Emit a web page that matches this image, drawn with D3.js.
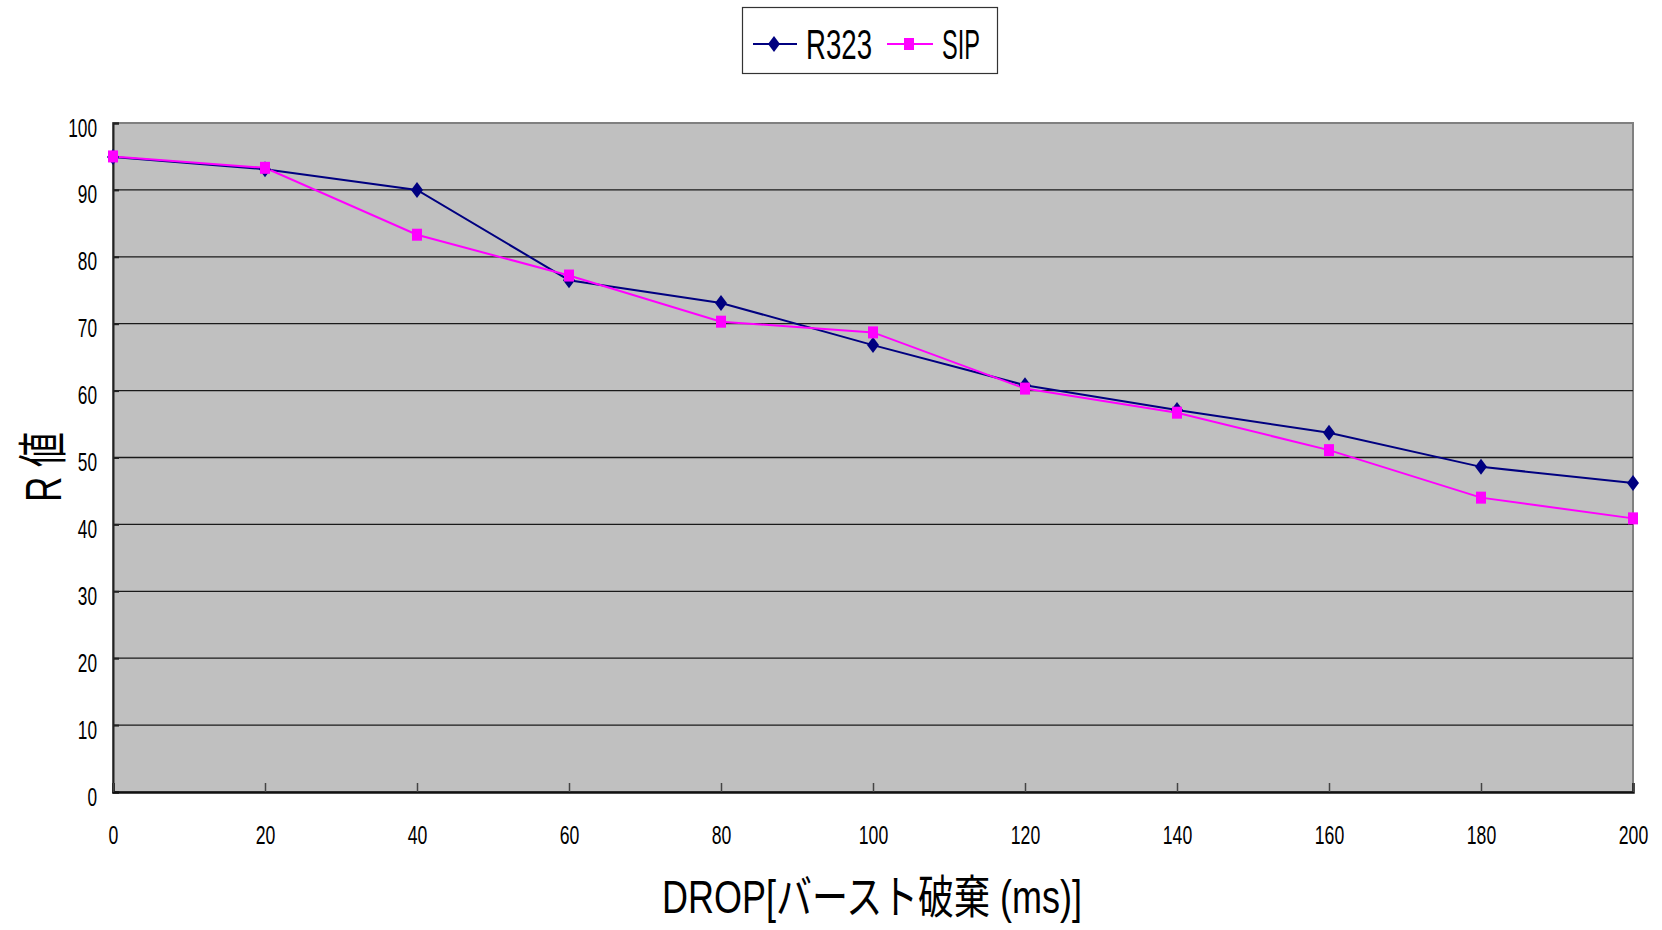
<!DOCTYPE html>
<html><head><meta charset="utf-8">
<script src="https://cdn.jsdelivr.net/npm/d3@7/dist/d3.min.js"></script>
<style>
html,body{margin:0;padding:0;background:#fff;}
text{font-family:"Liberation Sans Narrow","Liberation Sans","Noto Sans CJK JP",Arial,sans-serif;fill:#000;}
</style></head>
<body>
<svg id="chart" width="1662" height="930"></svg>
<script>
const categories = [0,20,40,60,80,100,120,140,160,180,200];
const r323 = [94.9,93.1,90.0,76.5,73.1,66.8,60.8,57.1,53.7,48.6,46.2];
const sip  = [95.0,93.3,83.3,77.2,70.3,68.7,60.3,56.7,51.1,44.0,40.9];
const yTicks = [0,10,20,30,40,50,60,70,80,90,100];
const xTicks = [0,20,40,60,80,100,120,140,160,180,200];
const seriesNames = ["R323","SIP"];
const xTitle = "DROP[バースト破棄 (ms)]";
const yTitle = "R 値";

const svg = d3.select("#chart");
const L=113, R=1633, T=123, B=792;
const x = d3.scaleLinear().domain([0,200]).range([L,R]);
const y = d3.scaleLinear().domain([0,100]).range([B,T]);

// plot background
svg.append("rect").attr("x",L).attr("y",T).attr("width",R-L).attr("height",B-T)
  .attr("fill","#C0C0C0").attr("stroke","#808080").attr("stroke-width",2);

// gridlines
svg.append("g").selectAll("line").data(yTicks.filter(d=>d>0&&d<100)).join("line")
  .attr("x1",L).attr("x2",R).attr("y1",d=>y(d)).attr("y2",d=>y(d))
  .attr("stroke","#1a1a1a").attr("stroke-width",1.3);

// y axis
const yAxis = d3.axisLeft(y).tickValues(yTicks).tickSize(-6).tickPadding(16).tickFormat(d3.format("d"));
const gy = svg.append("g").attr("transform",`translate(${L},0)`).call(yAxis);
gy.select(".domain").attr("stroke","#222").attr("stroke-width",2);
gy.selectAll(".tick line").attr("stroke","#222").attr("stroke-width",2);
gy.selectAll(".tick text").attr("font-size",26).attr("dy","0.5em")
  .attr("textLength",d=>String(d).length*9.6).attr("lengthAdjust","spacingAndGlyphs");

// x axis
const xAxis = d3.axisBottom(x).tickValues(xTicks).tickSize(-9).tickPadding(47).tickFormat(d3.format("d"));
const gx = svg.append("g").attr("transform",`translate(0,${B})`).call(xAxis);
gx.select(".domain").attr("stroke","#111").attr("stroke-width",2.5);
gx.selectAll(".tick line").attr("stroke","#444").attr("stroke-width",1.5);
gx.selectAll(".tick text").attr("font-size",26).attr("dy","0.2em")
  .attr("textLength",d=>String(d).length*9.8).attr("lengthAdjust","spacingAndGlyphs");

// lines
const line = d3.line().x((d,i)=>x(categories[i])).y(d=>y(d));
svg.append("path").datum(r323).attr("d",line).attr("fill","none").attr("stroke","#000080").attr("stroke-width",2);
svg.append("path").datum(sip).attr("d",line).attr("fill","none").attr("stroke","#FF00FF").attr("stroke-width",2);

const diamond = (cx,cy)=>`M${cx},${cy-8}L${cx+6},${cy}L${cx},${cy+8}L${cx-6},${cy}Z`;
svg.append("g").selectAll("path").data(r323).join("path")
  .attr("d",(d,i)=>diamond(x(categories[i]),y(d))).attr("fill","#000080");
svg.append("g").selectAll("rect").data(sip).join("rect")
  .attr("x",(d,i)=>x(categories[i])-5).attr("y",d=>y(d)-6).attr("width",10).attr("height",12).attr("fill","#FF00FF");

// legend
const lg = svg.append("g");
lg.append("rect").attr("x",742.5).attr("y",7.5).attr("width",255).attr("height",66)
  .attr("fill","#fff").attr("stroke","#333").attr("stroke-width",1.2);
lg.append("line").attr("x1",753).attr("x2",797).attr("y1",44).attr("y2",44).attr("stroke","#000080").attr("stroke-width",2);
lg.append("path").attr("d",diamond(774,44)).attr("fill","#000080");
lg.append("text").attr("x",806).attr("y",59).attr("font-size",43).text(seriesNames[0])
  .attr("textLength",66).attr("lengthAdjust","spacingAndGlyphs");
lg.append("line").attr("x1",887).attr("x2",933).attr("y1",44).attr("y2",44).attr("stroke","#FF00FF").attr("stroke-width",2);
lg.append("rect").attr("x",904).attr("y",38).attr("width",10).attr("height",12).attr("fill","#FF00FF");
lg.append("text").attr("x",942).attr("y",59).attr("font-size",43).text(seriesNames[1])
  .attr("textLength",38).attr("lengthAdjust","spacingAndGlyphs");

// axis titles
svg.append("text").attr("x",662).attr("y",913).attr("font-size",46).text(xTitle)
  .attr("textLength",420).attr("lengthAdjust","spacingAndGlyphs");
svg.append("text").attr("transform","translate(61,502) rotate(-90)").attr("font-size",50).text(yTitle)
  .attr("textLength",70).attr("lengthAdjust","spacingAndGlyphs");
</script>
</body></html>
